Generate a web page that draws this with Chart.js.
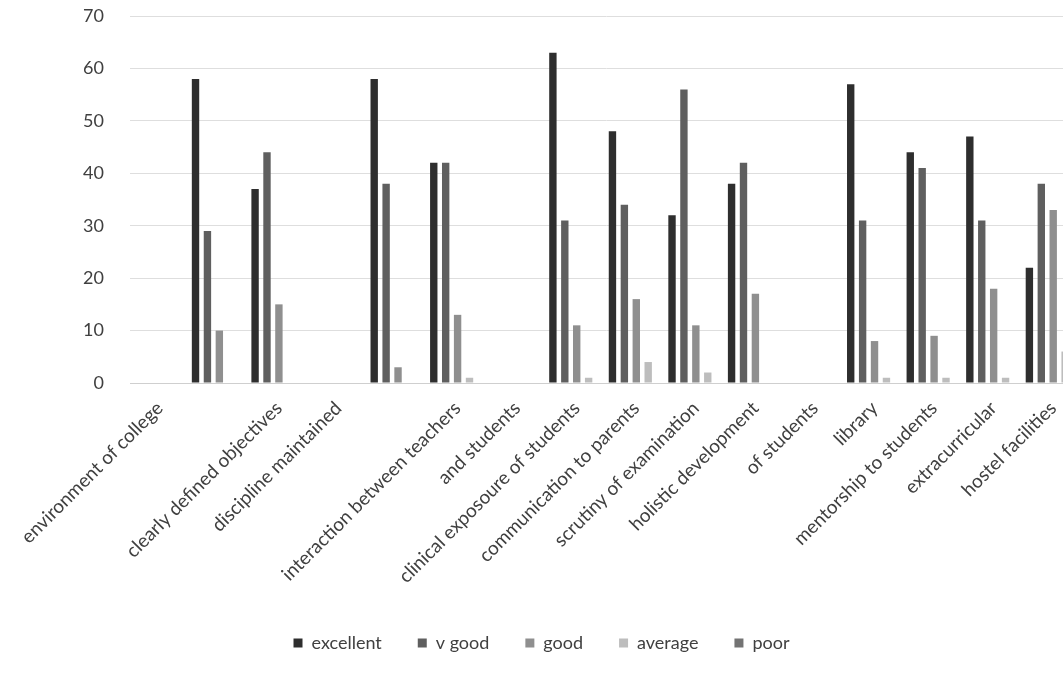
<!DOCTYPE html>
<html>
<head>
<meta charset="utf-8">
<title>Feedback chart</title>
<script src="https://cdn.jsdelivr.net/npm/chart.js@4.4.1/dist/chart.umd.min.js"></script>
<style>
  html, body { margin: 0; padding: 0; background: #fff; overflow: hidden; }
  #wrap { width: 1088px; height: 673px; }
</style>
</head>
<body>
<div id="wrap"><canvas id="feedbackbar"></canvas></div>
<script>
// categories as laid out on the sheet (blank slots carry no data)
var categories = [
  "environment of college", "",
  "clearly defined objectives",
  "discipline maintained", "",
  "interaction between teachers",
  "and students",
  "clinical exposoure of students",
  "communication to parents",
  "scrutiny of examination",
  "holistic development",
  "of students",
  "library",
  "mentorship to students",
  "extracurricular",
  "hostel facilities"
];

var excellent = [null, 58, 37, null, 58, 42, null, 63, 48, 32, 38, null, 57, 44, 47, 22];
var vgood     = [null, 29, 44, null, 38, 42, null, 31, 34, 56, 42, null, 31, 41, 31, 38];
var good      = [null, 10, 15, null, 3, 13, null, 11, 16, 11, 17, null, 8, 9, 18, 33];
var average   = [null, 0, 0, null, 0, 1, null, 1, 4, 2, 0, null, 1, 1, 1, 6];
var poor      = [null, 0, 0, null, 0, 0, null, 0, 0, 0, 0, null, 0, 0, 0, 0];

var yTicks = [0, 10, 20, 30, 40, 50, 60, 70];

Chart.defaults.font.family = "Lato";
Chart.defaults.color = "#404040";

// keep the legend low on the page while spacing the items out
var legendFit = {
  id: "legendFit",
  beforeUpdate: function (chart) {
    var lg = chart.legend;
    if (lg && !lg._fitPatched) {
      var origFit = lg.fit;
      lg.fit = function () {
        origFit.call(this);
        this.height = 75;
      };
      lg._fitPatched = true;
    }
  }
};

var barChartData = {
  labels: categories,
  datasets: [
    { label: "excellent", backgroundColor: "#2e2e2e", data: excellent },
    { label: "v good",    backgroundColor: "#5f5f5f", data: vgood },
    { label: "good",      backgroundColor: "#8f8f8f", data: good },
    { label: "average",   backgroundColor: "#bdbdbd", data: average },
    { label: "poor",      backgroundColor: "#737373", data: poor }
  ]
};

var chartOptions = {
  responsive: true,
  maintainAspectRatio: false,
  animation: false,
  layout: { padding: { top: 16, right: 5, bottom: 0, left: 0 } },
  datasets: {
    bar: { categoryPercentage: 1.0, barPercentage: 0.62 }
  },
  plugins: {
    legend: {
      position: "bottom",
      labels: {
        boxWidth: 9,
        boxHeight: 9,
        padding: 36,
        font: { size: 18 },
        color: "#404040"
      }
    },
    tooltip: { enabled: false }
  },
  scales: {
    x: {
      grid: { display: false },
      border: { display: true, color: "#cfcfcf" },
      ticks: {
        autoSkip: false,
        minRotation: 45,
        maxRotation: 45,
        padding: 6,
        font: { size: 19 }
      },
      afterFit: function (scale) { scale.height = 215; }
    },
    y: {
      min: 0,
      max: 70,
      afterBuildTicks: function (scale) {
        scale.ticks = yTicks.map(function (v) { return { value: v }; });
      },
      // invisible tick marks push the labels away from the plot
      grid: { color: "#dedede", drawTicks: true, tickLength: 24, tickColor: "rgba(0,0,0,0)" },
      border: { display: false },
      ticks: { padding: 2, font: { size: 18 } },
      afterFit: function (scale) { scale.width = 130; }
    }
  }
};

var ctx = document.getElementById("feedbackbar").getContext("2d");
var myBar = new Chart(ctx, {
  type: "bar",
  data: barChartData,
  options: chartOptions,
  plugins: [legendFit]
});
</script>
</body>
</html>
